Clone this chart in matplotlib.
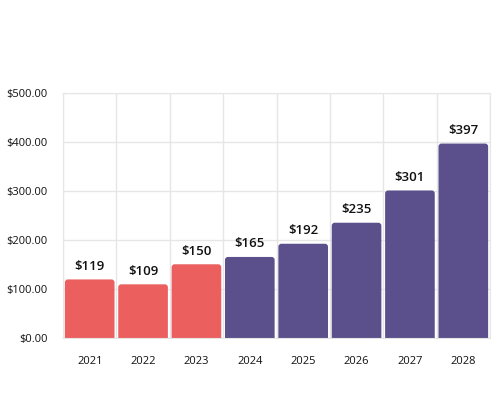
import numpy as np
import matplotlib
matplotlib.use("Agg")
import matplotlib.pyplot as plt
from matplotlib.patches import FancyBboxPatch

# datos
anios = ["2021", "2022", "2023", "2024", "2025", "2026", "2027", "2028"]
valores = [119, 109, 150, 165, 192, 235, 301, 397]
historico = [True, True, True, False, False, False, False, False]
y_ticks = [0, 100, 200, 300, 400, 500]

color_hist = "#EB5F5F"
color_proy = "#5B508C"

plt.rcParams["font.family"] = ["Open Sans", "DejaVu Sans"]

fig = plt.figure(figsize=(5, 4), dpi=100)
ax = fig.add_axes([0.126, 0.156, 0.854, 0.611])

x = np.arange(len(anios))
ax.set_xlim(-0.5, len(anios) - 0.5)
ax.set_ylim(0, 500)

# barras con esquinas superiores redondeadas
ancho = 0.93
px_x = 0.854 * 500 / len(anios)   # pixeles por unidad x
px_y = 0.611 * 400 / 500          # pixeles por unidad y
radio_px = 3
for xi, v, h in zip(x, valores, historico):
    color = color_hist if h else color_proy
    extra = 2 * radio_px / px_y
    patch = FancyBboxPatch(
        (xi - ancho / 2, -extra), ancho, v + extra,
        boxstyle=f"round,pad=0,rounding_size={radio_px / px_x}",
        mutation_aspect=px_x / px_y,
        facecolor=color, edgecolor="none", zorder=2, clip_on=True,
    )
    ax.add_patch(patch)
    ax.text(xi, v + 13 / px_y, f"${v}", ha="center", va="center",
            fontsize=9.5, fontweight="semibold", color="#111111", zorder=3)

ax.set_xticks(x)
ax.set_xticklabels(anios)
ax.set_yticks(y_ticks)
ax.set_yticklabels([f"${t:.2f}" for t in y_ticks])

# grilla vertical en los limites de cada categoria
ax.set_xticks(np.arange(-0.5, len(anios)), minor=True)
ax.grid(True, which="minor", axis="x", color="#e6e6e6", linewidth=1, zorder=0)
ax.grid(True, which="major", axis="y", color="#e6e6e6", linewidth=1, zorder=0)
ax.tick_params(axis="both", which="both", length=0)
ax.tick_params(axis="x", pad=13, labelsize=8, colors="#111111")
ax.tick_params(axis="y", pad=11, labelsize=8, colors="#111111")
for s in ax.spines.values():
    s.set_color("#e6e6e6")

fig.savefig("out.png", dpi=100, facecolor="white")
